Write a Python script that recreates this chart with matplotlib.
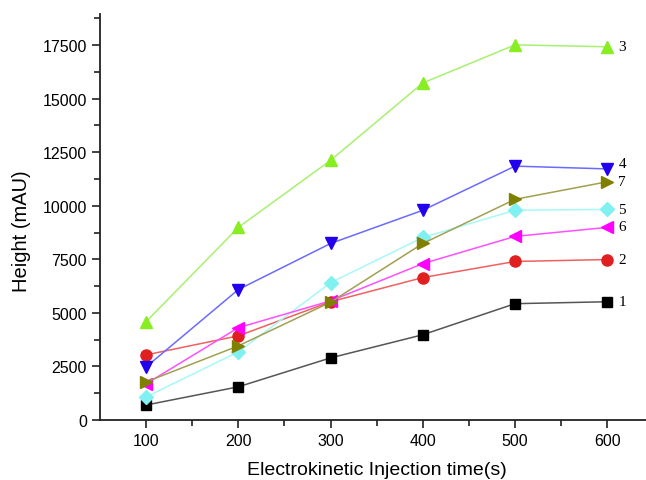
import matplotlib.pyplot as plt

# injection time (s)
times = [100, 200, 300, 400, 500, 600]

# peak heights (mAU) for the seven analytes
h1 = [700, 1550, 2900, 3980, 5430, 5520]
h2 = [3040, 3930, 5520, 6650, 7400, 7490]
h3 = [4590, 8990, 12120, 15730, 17510, 17420]
h4 = [2480, 6090, 8240, 9790, 11850, 11720]
h5 = [1080, 3180, 6410, 8520, 9790, 9830]
h6 = [1690, 4310, 5560, 7300, 8570, 8990]
h7 = [1780, 3460, 5500, 8240, 10300, 11120]

names = ['1', '2', '3', '4', '5', '6', '7']

series = [h1, h2, h3, h4, h5, h6, h7]
markers = ['s', 'o', '^', 'v', 'D', '<', '>']
msizes = [7, 8, 9, 9, 7, 9, 9]
mcolors = ['#000000', '#e02020', '#88ee22', '#2200ee', '#80f0f0', '#ff00ff', '#808000']
lcolors = ['#555555', '#f06060', '#a8f070', '#6a6aff', '#a8f8f8', '#ff50ff', '#a0a050']
# vertical nudge (points) for the end labels
label_dy = [0, 0, 0, 4, 0, 1, 0]

plt.rcParams['font.family'] = ['Liberation Sans', 'DejaVu Sans']

fig = plt.figure(figsize=(6.46, 4.81), dpi=100)
ax = fig.add_axes([0.1548, 0.1247, 0.8452, 0.8441])

for y, m, ms, mc, lc, name, dy in zip(series, markers, msizes, mcolors, lcolors, names, label_dy):
    ax.plot(times, y, color=lc, lw=1.1, marker=m, ms=ms, mfc=mc, mec=mc, zorder=3)
    ax.annotate(name, (times[-1], y[-1]), xytext=(8, dy), textcoords='offset points',
                va='center', ha='left', fontsize=11, family='Liberation Serif')

ax.set_xlim(50, 642)
ax.set_ylim(0, 18950)
ax.set_xticks(times)
ax.set_xticks([150, 250, 350, 450, 550], minor=True)
ax.set_yticks(range(0, 17501, 2500))
ax.set_yticks(range(1250, 18800, 2500), minor=True)

for s in ['top', 'right']:
    ax.spines[s].set_visible(False)
for s in ['left', 'bottom']:
    ax.spines[s].set_linewidth(1.3)
    ax.spines[s].set_color('#222222')

ax.tick_params(which='major', direction='out', length=6, width=1.2, labelsize=11.5, color='#222222')
ax.tick_params(which='minor', direction='out', length=4, width=1.2, color='#222222')

ax.set_xlabel('Electrokinetic Injection time(s)', fontsize=14)
ax.set_ylabel('Height (mAU)', fontsize=14.5)
ax.xaxis.set_label_coords(0.507, -0.1)
ax.yaxis.set_label_coords(-0.126, 0.468)

fig.savefig('out.png', dpi=100)
